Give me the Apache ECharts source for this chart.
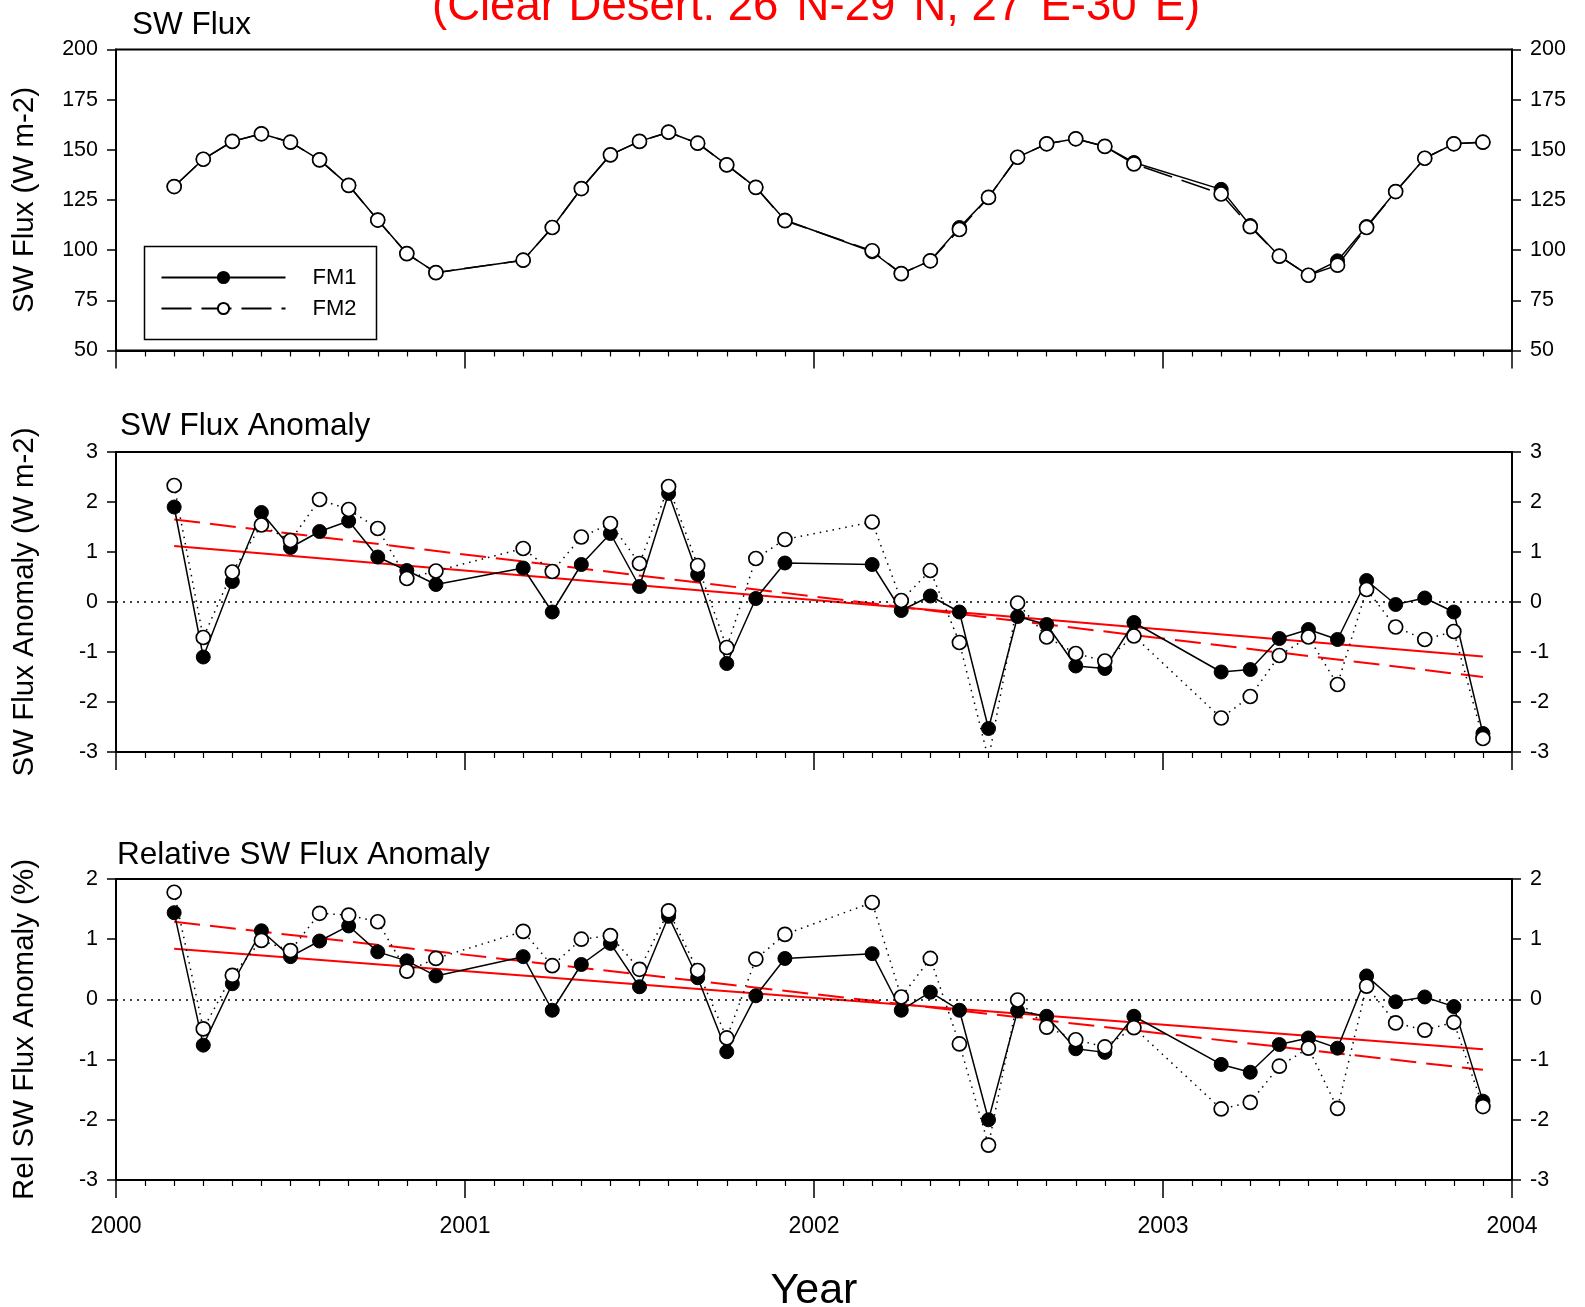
<!DOCTYPE html>
<html><head><meta charset="utf-8">
<script src="https://cdn.jsdelivr.net/npm/echarts@6/dist/echarts.min.js"></script>
<style>html,body{margin:0;padding:0;background:#fff}#c{width:1585px;height:1307px}</style>
</head><body><div id="c"></div><script>
// ---- data ----
const months = ['2000-03','2000-04','2000-05','2000-06','2000-07','2000-08','2000-09','2000-10','2000-11','2000-12',
  '2001-03','2001-04','2001-05','2001-06','2001-07','2001-08','2001-09','2001-10','2001-11','2001-12',
  '2002-03','2002-04','2002-05','2002-06','2002-07','2002-08','2002-09','2002-10','2002-11','2002-12',
  '2003-03','2003-04','2003-05','2003-06','2003-07','2003-08','2003-09','2003-10','2003-11','2003-12'];
const fluxFM1 = [131.7,145.3,154.2,158,153.8,145,132.3,115,98.3,88.8,
  95,111.3,130.7,147.5,154.2,158.8,153.3,142.5,131.3,115,
  99.2,88.3,94.7,111.3,126.3,146.3,153,155.5,151.7,143.7,
  130.3,112.3,97,87.5,94.7,111.8,129.2,145.8,153,153.8];
const fluxFM2 = [131.7,145.3,154.2,158,153.8,145,132.3,115,98.3,88.8,
  95,111.3,130.7,147.5,154.2,158.8,153.3,142.5,131.3,114.7,
  99.7,88.3,94.7,110.3,126.3,146.3,153,155.5,151.7,143,
  128,111.7,97,87.5,92.5,111.3,129.2,145.8,153,153.8];
const anomFM1 = [1.9,-1.1,0.41,1.79,1.09,1.41,1.62,0.9,0.63,0.35,
  0.68,-0.2,0.75,1.37,0.31,2.17,0.55,-1.23,0.07,0.78,
  0.75,-0.17,0.12,-0.2,-2.53,-0.29,-0.45,-1.28,-1.33,-0.41,
  -1.4,-1.35,-0.73,-0.55,-0.75,0.43,-0.05,0.08,-0.2,-2.63];
const anomFM2 = [2.33,-0.71,0.6,1.54,1.23,2.05,1.85,1.47,0.47,0.62,
  1.07,0.61,1.3,1.57,0.77,2.31,0.73,-0.91,0.87,1.25,
  1.6,0.03,0.63,-0.81,-3.15,-0.02,-0.7,-1.03,-1.18,-0.68,
  -2.32,-1.89,-1.07,-0.7,-1.65,0.25,-0.5,-0.75,-0.59,-2.73];
const relFM1 = [1.44,-0.76,0.26,1.14,0.71,0.97,1.22,0.79,0.64,0.39,
  0.71,-0.18,0.58,0.93,0.21,1.38,0.36,-0.87,0.06,0.68,
  0.76,-0.18,0.12,-0.18,-2.0,-0.19,-0.28,-0.82,-0.88,-0.28,
  -1.08,-1.21,-0.75,-0.64,-0.81,0.39,-0.04,0.04,-0.12,-1.69];
const relFM2 = [1.78,-0.49,0.4,0.98,0.81,1.43,1.4,1.29,0.47,0.68,
  1.13,0.56,1.0,1.06,0.5,1.47,0.48,-0.64,0.67,1.08,
  1.61,0.04,0.68,-0.74,-2.42,-0.01,-0.46,-0.67,-0.79,-0.47,
  -1.82,-1.71,-1.11,-0.81,-1.81,0.22,-0.39,-0.51,-0.38,-1.78];
const trendMonths = ['2000-03','2003-12'];
const anomTrendFM1 = [1.12,-1.09];
const anomTrendFM2 = [1.65,-1.5];
const relTrendFM1 = [0.84,-0.83];
const relTrendFM2 = [1.29,-1.17];
const yearTicks = ['2000','2001','2002','2003','2004'];

// ---- build ----
const FONT = 'Liberation Sans, Arial, sans-serif';
const toYear = s => { const p = s.split('-').map(Number); return p[0] + (p[1]-1)/12; };
const xs = months.map(toYear);
const txs = trendMonths.map(toYear);
const pairs = v => v.map((y,i)=>[xs[i], y]);
const tpairs = v => v.map((y,i)=>[txs[i], y]);

const grids = [
  {left:116, right:73, top:49.5, height:301},
  {left:116, right:73, top:452, height:300},
  {left:116, right:73, top:879, height:301}
].map(g => Object.assign(g, {show:true, borderColor:'#000', borderWidth:2, backgroundColor:'transparent',
  containLabel:false, outerBoundsMode:'none'}));

function xAxis(gi, showLabel) {
  const a = {
    type:'value', gridIndex:gi, min:+yearTicks[0], max:+yearTicks[yearTicks.length-1], interval:1,
    axisLine:{show:true, onZero:false, lineStyle:{color:'#000', width:2}},
    axisTick:{show:true, inside:false, length:18, lineStyle:{color:'#000', width:1.5}},
    minorTick:{show:true, splitNumber:12, length:6, lineStyle:{color:'#000', width:1.2}},
    splitLine:{show:false}, minorSplitLine:{show:false},
    axisLabel:{show:showLabel, margin:35, color:'#000', fontSize:23, fontFamily:FONT, formatter:v=>String(v)}
  };
  if (showLabel) Object.assign(a, {name:'Year', nameLocation:'middle', nameGap:90,
    nameTextStyle:{fontSize:43, color:'#000', fontFamily:FONT}});
  return a;
}
function yAxisPair(gi, min, max, interval, name) {
  const common = {
    type:'value', gridIndex:gi, min, max, interval,
    axisLine:{show:true, onZero:false, lineStyle:{color:'#000', width:2}},
    axisTick:{show:true, inside:false, length:9, lineStyle:{color:'#000', width:1.5}},
    splitLine:{show:false},
    axisLabel:{margin:18, color:'#000', fontSize:21.5, fontFamily:FONT}
  };
  return [
    Object.assign({}, common, {position:'left', name, nameLocation:'middle', nameGap:76, nameRotate:90,
      nameTextStyle:{fontSize:29.5, color:'#000', fontFamily:FONT}}),
    Object.assign({}, common, {position:'right'})
  ];
}
const yAxes = [].concat(
  yAxisPair(0, 50, 200, 25, 'SW Flux (W m-2)'),
  yAxisPair(1, -3, 3, 1, 'SW Flux Anomaly (W m-2)'),
  yAxisPair(2, -3, 2, 1, 'Rel SW Flux Anomaly (%)')
);

const sym = 14;
function fm1(data, xi, yi) {
  return {name:'FM1', type:'line', xAxisIndex:xi, yAxisIndex:yi, data:pairs(data), z:4,
    symbol:'circle', symbolSize:sym, showAllSymbol:true, clip:true, animation:false,
    lineStyle:{color:'#000', width:1.5, type:'solid'},
    itemStyle:{color:'#000', borderColor:'#000', borderWidth:1}};
}
function fm2(data, xi, yi, ltype) {
  return {name:'FM2', type:'line', xAxisIndex:xi, yAxisIndex:yi, data:pairs(data), z:5,
    symbol:'circle', symbolSize:sym, showAllSymbol:true, clip:true, animation:false,
    lineStyle:{color:'#000', width:1.5, type:ltype},
    itemStyle:{color:'#fff', borderColor:'#000', borderWidth:1.7}};
}
function trend(data, xi, yi, ltype) {
  return {name:'trend', type:'line', xAxisIndex:xi, yAxisIndex:yi, data:tpairs(data), z:3,
    symbol:'none', animation:false, silent:true,
    lineStyle:{color:'#ff0000', width:2, type:ltype}};
}
function zeroLine(xi, yi) {
  return {name:'zero', type:'line', xAxisIndex:xi, yAxisIndex:yi, data:[], z:2, animation:false, silent:true,
    markLine:{silent:true, symbol:'none', label:{show:false},
      lineStyle:{color:'#000', width:1.5, type:[2,5]}, data:[{yAxis:0}]}};
}

const option = {
  backgroundColor:'#fff',
  animation:false,
  title:[
    {text:'(Clear Desert: 26°N-29°N, 27°E-30°E)', left:432, top:-16, padding:0,
      textStyle:{color:'#ff0000', fontSize:45.5, fontWeight:'normal', fontFamily:FONT}},
    {text:'SW Flux', left:132, top:9, padding:0, textStyle:{color:'#000', fontSize:31.5, fontWeight:'normal', fontFamily:FONT}},
    {text:'SW Flux Anomaly', left:120, top:410, padding:0, textStyle:{color:'#000', fontSize:31.5, fontWeight:'normal', fontFamily:FONT}},
    {text:'Relative SW Flux Anomaly', left:117, top:839, padding:0, textStyle:{color:'#000', fontSize:31.5, fontWeight:'normal', fontFamily:FONT}}
  ],
  legend:{data:['FM1','FM2'], orient:'vertical', left:144.5, top:246.5, padding:[20,20,20,16],
    itemWidth:124, itemHeight:14, itemGap:9, borderColor:'#000', borderWidth:1.5, backgroundColor:'#fff',
    selectedMode:false, inactiveColor:'#000',
    textStyle:{fontSize:22, color:'#000', fontFamily:FONT, padding:[0,0,0,22]}},
  grid:grids,
  xAxis:[xAxis(0,false), xAxis(1,false), xAxis(2,true)],
  yAxis:yAxes,
  series:[
    fm1(fluxFM1, 0, 0), fm2(fluxFM2, 0, 0, [30,10]),
    zeroLine(1, 2), trend(anomTrendFM1, 1, 2, 'solid'), trend(anomTrendFM2, 1, 2, [26,10]),
    fm1(anomFM1, 1, 2), fm2(anomFM2, 1, 2, [1.5,5]),
    zeroLine(2, 4), trend(relTrendFM1, 2, 4, 'solid'), trend(relTrendFM2, 2, 4, [26,10]),
    fm1(relFM1, 2, 4), fm2(relFM2, 2, 4, [1.5,5])
  ]
};
const chart = echarts.init(document.getElementById('c'), null, {renderer:'canvas'});
chart.setOption(option);
</script></body></html>
